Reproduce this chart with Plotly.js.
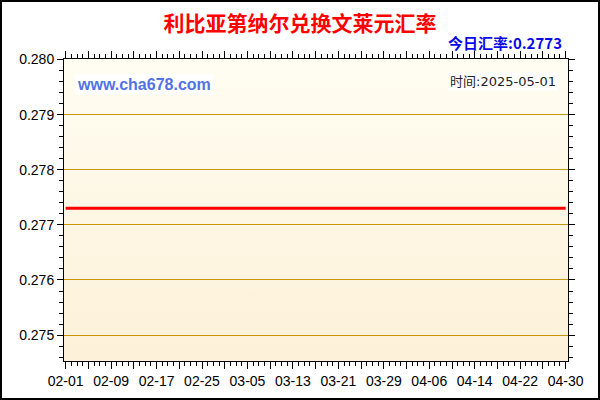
<!DOCTYPE html>
<html>
<head>
<meta charset="utf-8">
<script src="https://cdn.plot.ly/plotly-3.0.1.min.js"></script>
<style>
  body { margin: 0; background: #fff; }
  #wrap { position: relative; width: 600px; height: 400px; }
  #bg { position: absolute; left: 64px; top: 59px; width: 504px; height: 302px;
        background: linear-gradient(to bottom, #FFFDF2, #FDF1D8); }
  #chart { position: absolute; left: 0; top: 0; width: 600px; height: 400px; }
  #frame { position: absolute; left: 0; top: 0; width: 600px; height: 400px;
           box-sizing: border-box; border: 2px solid #000; pointer-events: none; }
</style>
</head>
<body>
<div id="wrap">
  <div id="bg"></div>
  <div id="chart"></div>
  <div id="frame"></div>
</div>
<script>
// Data
var dates = ['2025-02-01', '2025-02-09', '2025-02-17', '2025-02-25', '2025-03-05', '2025-03-13',
             '2025-03-21', '2025-03-29', '2025-04-06', '2025-04-14', '2025-04-22', '2025-04-30']
var rates = [0.2773, 0.2773, 0.2773, 0.2773, 0.2773, 0.2773,
             0.2773, 0.2773, 0.2773, 0.2773, 0.2773, 0.2773]
var tickLabels = ['02-01', '02-09', '02-17', '02-25', '03-05', '03-13',
                  '03-21', '03-29', '04-06', '04-14', '04-22', '04-30']
var titleText = '利比亚第纳尔兑换文莱元汇率'
var todayText = '今日汇率:0.2773'
var siteText = 'www.cha678.com'
var timeText = '时间:2025-05-01'

// major ticks every 4 days, only every other one labelled
var DAY = 86400000
var tickvals = []
var ticktext = []
var start = new Date('2025-02-01T00:00:00Z').getTime()
for (var i = 0; i < tickLabels.length * 2 - 1; i++) {
  tickvals.push(new Date(start + i * 4 * DAY).toISOString().slice(0, 10))
  ticktext.push(i % 2 == 0 ? tickLabels[i / 2] : '')
}

var trace = {
  x: dates,
  y: rates,
  mode: 'lines',
  line: {color: '#FF0000', width: 3},
  type: 'scatter',
  hoverinfo: 'skip'
}

var axisFont = {family: 'Liberation Sans, Arial, sans-serif', size: 14, color: '#000'}

var layout = {
  width: 600,
  height: 400,
  margin: {l: 64, r: 32, t: 59, b: 39},
  paper_bgcolor: 'rgba(0,0,0,0)',
  plot_bgcolor: 'rgba(0,0,0,0)',
  showlegend: false,
  title: {
    text: '<b>' + titleText + '</b>',
    font: {family: 'Noto Sans CJK SC, sans-serif', size: 21, color: '#FF0000', weight: 900},
    x: 0.5, xref: 'container', xanchor: 'center',
    y: 0.94, yref: 'container', yanchor: 'middle'
  },
  xaxis: {
    type: 'date',
    range: ['2025-01-31 17:00', '2025-04-30 10:00'],
    tickmode: 'array',
    tickvals: tickvals,
    ticktext: ticktext,
    ticks: 'outside',
    ticklen: 7,
    tickwidth: 1,
    tickcolor: '#000',
    showline: true,
    linecolor: '#000',
    linewidth: 1,
    mirror: 'allticks',
    showgrid: false,
    zeroline: false,
    tickfont: axisFont,
    minor: {dtick: DAY, tick0: '2025-02-01', ticks: 'outside', ticklen: 4, tickcolor: '#000', showgrid: false}
  },
  yaxis: {
    range: [0.27453, 0.28001],
    tickmode: 'linear',
    tick0: 0.275,
    dtick: 0.001,
    tickformat: '.3f',
    ticks: 'outside',
    ticklen: 6,
    tickcolor: '#000',
    showline: true,
    linecolor: '#000',
    linewidth: 1,
    mirror: 'allticks',
    showgrid: true,
    gridcolor: '#C8960A',
    gridwidth: 1,
    zeroline: false,
    tickfont: axisFont,
    minor: {dtick: 0.0002, ticks: 'outside', ticklen: 4, tickcolor: '#000', showgrid: false}
  },
  annotations: [
    {
      text: '<b>' + todayText + '</b>',
      xref: 'paper', yref: 'paper', x: 0.992, y: 1.053,
      xanchor: 'right', yanchor: 'middle', showarrow: false,
      font: {family: 'Noto Sans CJK SC, sans-serif', size: 15, color: '#0A0AE6'}
    },
    {
      text: '<b>' + siteText + '</b>',
      xref: 'paper', yref: 'paper', x: 0.022, y: 0.914,
      xanchor: 'left', yanchor: 'middle', showarrow: false,
      bgcolor: '#FFFFFF',
      font: {family: 'Liberation Sans, Arial, sans-serif', size: 16, color: '#5272E6'}
    },
    {
      text: timeText,
      xref: 'paper', yref: 'paper', x: 0.98, y: 0.927,
      xanchor: 'right', yanchor: 'middle', showarrow: false,
      bgcolor: '#FFFFFF',
      font: {family: 'DejaVu Sans, Noto Sans CJK SC, sans-serif', size: 13, color: '#222'}
    }
  ]
}

Plotly.newPlot('chart', [trace], layout, {displayModeBar: false, staticPlot: true})
</script>
</body>
</html>
